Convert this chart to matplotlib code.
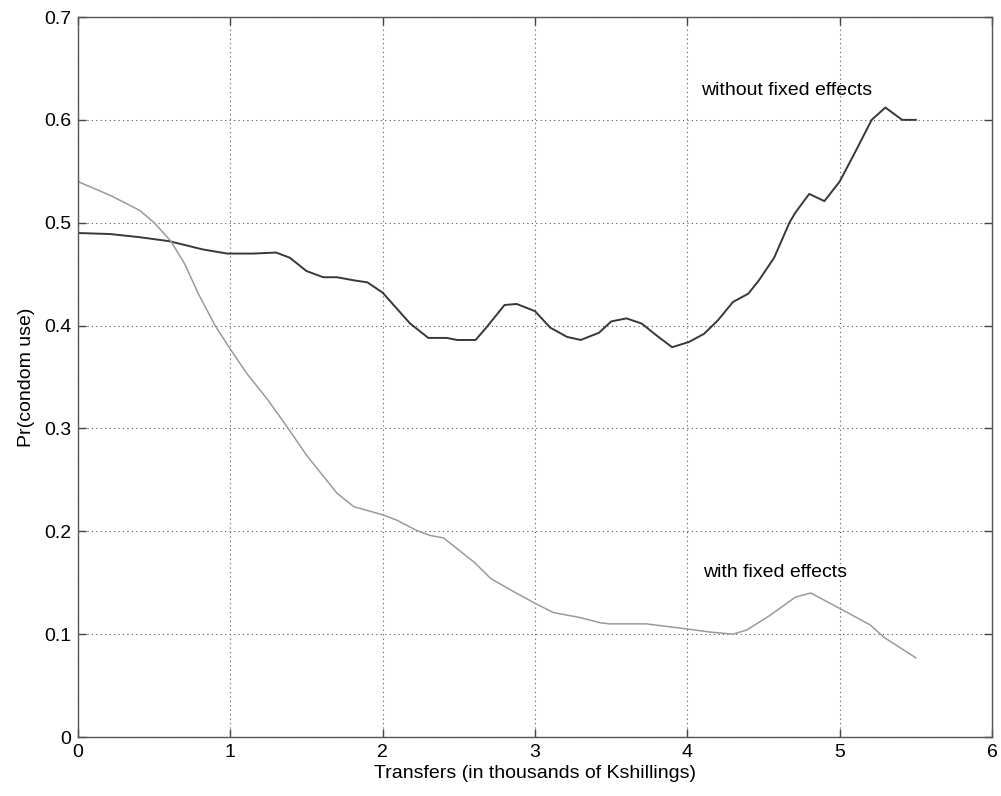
import matplotlib
matplotlib.use("Agg")
import matplotlib.pyplot as plt

# Without fixed effects (dark line)
x_nofe = [0.00, 0.21, 0.40, 0.60, 0.82, 0.98, 1.15, 1.30, 1.39, 1.50, 1.61, 1.70, 1.81, 1.90,
          2.00, 2.18, 2.30, 2.42, 2.49, 2.61, 2.68, 2.80, 2.88, 3.00, 3.10, 3.21, 3.30, 3.42,
          3.50, 3.60, 3.70, 3.81, 3.90, 4.01, 4.11, 4.20, 4.30, 4.40, 4.47, 4.57, 4.67, 4.71,
          4.80, 4.90, 5.00, 5.11, 5.21, 5.30, 5.41, 5.50]
y_nofe = [0.490, 0.489, 0.486, 0.482, 0.474, 0.470, 0.470, 0.471, 0.466, 0.453, 0.447, 0.447,
          0.444, 0.442, 0.432, 0.402, 0.388, 0.388, 0.386, 0.386, 0.398, 0.420, 0.421, 0.414,
          0.398, 0.389, 0.386, 0.393, 0.404, 0.407, 0.402, 0.389, 0.379, 0.384, 0.392, 0.405,
          0.423, 0.431, 0.444, 0.466, 0.500, 0.510, 0.528, 0.521, 0.540, 0.571, 0.600, 0.612,
          0.600, 0.600]

# With fixed effects (light line)
x_fe = [0.00, 0.22, 0.405, 0.50, 0.61, 0.70, 0.79, 0.90, 1.00, 1.11, 1.24, 1.38, 1.50, 1.70,
        1.81, 2.00, 2.09, 2.22, 2.31, 2.40, 2.60, 2.71, 2.84, 3.00, 3.12, 3.30, 3.43, 3.49,
        3.73, 4.00, 4.15, 4.30, 4.39, 4.54, 4.71, 4.81, 5.00, 5.20, 5.29, 5.50]
y_fe = [0.540, 0.526, 0.512, 0.500, 0.482, 0.460, 0.431, 0.400, 0.377, 0.353, 0.329, 0.300,
        0.274, 0.237, 0.224, 0.216, 0.211, 0.201, 0.196, 0.1935, 0.170, 0.154, 0.143, 0.130,
        0.121, 0.116, 0.111, 0.110, 0.110, 0.105, 0.102, 0.100, 0.104, 0.118, 0.136, 0.140,
        0.125, 0.109, 0.097, 0.077]

x_ticks = [0, 1, 2, 3, 4, 5, 6]
y_ticks = [0, 0.1, 0.2, 0.3, 0.4, 0.5, 0.6, 0.7]
y_tick_labels = ["0", "0.1", "0.2", "0.3", "0.4", "0.5", "0.6", "0.7"]

plt.rcParams['font.family'] = ['Liberation Sans', 'DejaVu Sans']

fig = plt.figure(figsize=(10.01, 7.96), dpi=100)
ax = fig.add_axes([78/1001, 59/796, (992-78)/1001, (737-17)/796])

ax.plot(x_nofe, y_nofe, color='#383838', lw=1.4)
ax.plot(x_fe, y_fe, color='#9a9a9a', lw=1.1)

ax.set_xlim(0, 6)
ax.set_ylim(0, 0.7)
ax.set_xticks(x_ticks)
ax.set_xticklabels([str(t) for t in x_ticks])
ax.set_yticks(y_ticks)
ax.set_yticklabels(y_tick_labels)
ax.grid(True, linestyle=(0, (1, 3)), color='#555555', linewidth=0.8)
ax.tick_params(direction='in', length=6, width=1, top=True, right=True,
               labelsize=14, colors='#444444', labelcolor='black', pad=5)
for s in ax.spines.values():
    s.set_color('#555555')
    s.set_linewidth(1)

ax.set_xlabel('Transfers (in thousands of Kshillings)', fontsize=14, labelpad=3)
ax.set_ylabel('Pr(condom use)', fontsize=14, labelpad=6)

ax.text(4.09, 0.629, 'without fixed effects', fontsize=14, va='center', ha='left')
ax.text(4.10, 0.1595, 'with fixed effects', fontsize=14, va='center', ha='left')

fig.savefig('out.png', dpi=100)
